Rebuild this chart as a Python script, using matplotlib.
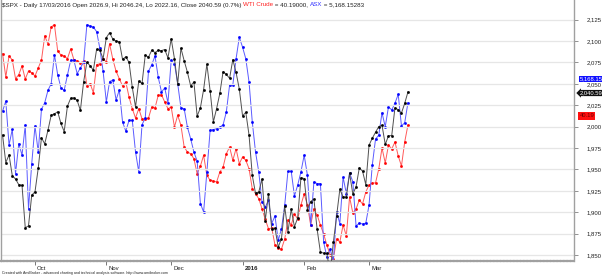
import numpy as np
import pandas as pd
import matplotlib
matplotlib.use("Agg")
import matplotlib.pyplot as plt
from matplotlib.transforms import ScaledTranslation

plt.rcParams['font.family'] = ['Liberation Sans', 'DejaVu Sans']

# trading days 17/09/2015 .. 17/03/2016 (US holidays removed)
holidays = ['2015-11-26', '2015-12-25', '2016-01-01', '2016-01-18', '2016-02-15']
dates = pd.bdate_range('2015-09-17', '2016-03-17')
dates = dates[~dates.isin(pd.to_datetime(holidays))]

spx = [1990.20, 1958.03, 1966.97, 1942.74, 1938.76, 1932.24, 1931.34, 1881.77, 1884.09, 1920.03,
       1923.82, 1951.36, 1987.05, 1979.92, 1995.83, 2013.43, 2014.89, 2017.46, 2003.69, 1994.24,
       2023.86, 2033.11, 2033.66, 2030.77, 2018.94, 2052.51, 2075.15, 2071.18, 2065.89, 2090.35,
       2089.41, 2079.36,
       2104.05, 2109.79, 2102.31, 2099.93, 2099.20, 2078.58, 2081.72, 2075.00, 2045.97, 2023.04,
       2053.19, 2050.44, 2083.58, 2081.24, 2089.17, 2086.59, 2089.14, 2088.87, 2090.11, 2080.41,
       2102.63, 2079.51, 2049.62, 2091.69, 2077.07, 2063.59, 2047.62, 2052.23, 2012.37, 2021.94,
       2043.41, 2073.07, 2041.89, 2005.55, 2021.15, 2038.97, 2064.29, 2060.99, 2056.50, 2078.36,
       2063.36, 2043.94,
       2012.66, 2016.71, 1990.26, 1943.09, 1922.03, 1923.67, 1938.68, 1890.28, 1921.84, 1880.33,
       1881.33, 1859.33, 1868.99, 1906.90, 1877.08, 1903.63, 1882.95, 1893.36, 1940.24,
       1939.38, 1903.03, 1912.53, 1915.45, 1880.05, 1853.44, 1852.21, 1851.86, 1829.08, 1864.78,
       1895.58, 1926.82, 1917.83, 1917.78, 1945.50, 1921.27, 1929.80, 1951.70, 1948.05, 1932.23,
       1978.35, 1986.45, 1993.40, 1999.99, 2001.76, 1979.26, 1989.26, 1989.57, 2022.19, 2019.64,
       2015.93, 2027.22, 2040.59]

wti = [46.92, 44.72, 46.70, 46.32, 44.56, 44.94, 45.76, 44.53, 45.28, 45.12,
       44.81, 45.57, 46.32, 48.59, 47.83, 49.44, 49.65, 47.17, 46.79, 46.70,
       46.44, 47.36, 46.35, 46.23, 46.07, 46.20, 43.87, 44.09, 43.24, 45.88,
       45.97, 46.44, 46.13, 47.86, 46.39, 45.26, 44.56, 43.87, 44.25, 42.83,
       41.73, 40.85, 41.73, 40.78, 40.73, 40.85, 41.89, 41.79, 42.99, 43.05,
       42.36, 41.73, 41.89, 40.00, 41.11, 40.16, 38.11, 37.64, 37.48, 37.01,
       35.60, 36.32, 37.33, 35.44, 34.97, 34.91, 34.81, 35.76, 36.23, 37.48,
       38.11, 36.86, 37.95, 36.54, 37.17, 36.86, 36.07, 34.18, 33.71, 33.24,
       32.29, 31.29, 30.41, 30.47, 28.87, 28.59, 28.49, 29.44, 31.23, 30.76,
       31.79, 31.32, 32.64, 33.68, 32.64, 30.76, 32.27, 31.70, 30.76, 29.91,
       28.87, 27.93, 27.55, 29.44, 29.15, 30.76, 29.72, 33.40, 31.89, 32.27,
       33.11, 32.74, 33.87, 34.53, 34.72, 34.72, 36.04, 38.02, 36.61, 38.30,
       37.93, 38.59, 37.27, 36.32, 38.59, 40.19]

asx = [5147, 5172, 5062, 5102, 4991, 5066, 5037, 5112, 4903, 5016,
       5110, 5045, 5152, 5168, 5199, 5216, 5288, 5238, 5205, 5199,
       5237, 5274, 5274, 5241, 5255, 5270, 5363, 5360, 5357, 5346,
       5304, 5247, 5170, 5221, 5225, 5175, 5200, 5120, 5097, 5124,
       5124, 5045, 4995, 5113, 5130, 5247, 5263, 5285, 5232, 5195,
       5205, 5168, 5274, 5266, 5216, 5155, 5153, 5107, 5078, 5045,
       5022, 4916, 4895, 4995, 5099, 5101, 5103, 5107, 5113, 5145,
       5212, 5213, 5278, 5332, 5307, 5278, 5220, 5120, 5045, 4995,
       4920, 4907, 4924, 4866, 4885, 4824, 4853, 4912, 4997, 4997,
       4935, 4962, 4995, 5037, 4987, 4862, 4970, 4966, 4966, 4820,
       4782, 4802, 4772, 4895, 4866, 4982, 4941, 4992, 4971, 4860,
       4867, 4865, 4867, 4912, 5012, 5077, 5087, 5143, 5108, 5158,
       5150, 5167, 5189, 5110, 5118, 5168.15]

x = np.arange(len(dates))

fig = plt.figure(figsize=(6.02, 2.76), dpi=100)
ax = fig.add_axes([1 / 602, 15 / 276, 573 / 602, 261 / 276])
ax_w = ax.twinx()
ax_a = ax.twinx()

ax.set_xlim(-0.48, 176.2)
ax.set_ylim(1843, 2148)
ax_w.set_ylim(27.36, 51.98)
ax_a.set_ylim(4772.4, 5424.9)

for a in (ax_w, ax_a):
    a.set_yticks([])
    for s in a.spines.values():
        s.set_visible(False)

ax_a.plot(x, asx, color='#5a5aff', lw=0.7, marker='s', ms=0.9, mfc='#0000ff', mec='#0000ff')
ax_w.plot(x, wti, color='#ff5a5a', lw=0.7, marker='s', ms=0.9, mfc='#ff0000', mec='#ff0000')
ax.plot(x, spx, color='#505050', lw=0.7, marker='s', ms=0.9, mfc='#000000', mec='#000000', zorder=5)
ax.set_zorder(3)
ax.patch.set_visible(False)

# right price scale
yt = np.arange(1850, 2126, 25)
ax.set_yticks(yt)
ax.set_yticklabels([f'{v:,}' for v in yt])
ax.yaxis.tick_right()
ax.tick_params(axis='y', length=3, width=0.6, color='#808080', labelsize=4.3,
               pad=6, labelcolor='#202020')
ax.grid(axis='y', color='#e6e6e6', lw=0.9)
ax.set_axisbelow(True)

# month ticks
months = pd.Series(dates.month)
pos = x[(months != months.shift()).values][1:]
labs = ['Oct', 'Nov', 'Dec', '2016', 'Feb', 'Mar']
ax.set_xticks(pos)
ax.set_xticklabels(labs)
ax.tick_params(axis='x', length=3, width=0.6, color='#606060', labelsize=4.3, pad=0.5,
               labelcolor='#202020')
for t in ax.get_xticklabels():
    t.set_ha('left')
    t.set_transform(t.get_transform() + ScaledTranslation(1.5 / 72, 0, fig.dpi_scale_trans))
    if t.get_text() == '2016':
        t.set_fontweight('bold')

for s in ['left', 'right', 'bottom']:
    ax.spines[s].set_color('#a0a0a0')
    ax.spines[s].set_linewidth(1.0)
ax.spines['bottom'].set_linewidth(1.6)
ax.spines['bottom'].set_linestyle((0, (1, 0.5)))
ax.spines['top'].set_visible(False)

# value tags at the right
ax_a.annotate(f'{asx[-1]:,.2f}', xy=(1.0, asx[-1]), xycoords=('axes fraction', 'data'),
              xytext=(4, 17), textcoords='offset points', fontsize=4.2, color='white',
              va='center', ha='left', annotation_clip=False,
              bbox=dict(boxstyle='square,pad=0.1', fc='#1010ff', ec='none'))
ax.annotate(f'{spx[-1]:,.2f}', xy=(1.0, spx[-1]), xycoords=('axes fraction', 'data'),
            xytext=(4, -0.8), textcoords='offset points', fontsize=4.2, color='white',
            va='center', ha='left', annotation_clip=False,
            bbox=dict(boxstyle='larrow,pad=0.1', fc='#101010', ec='none'))
ax_w.annotate(f'{wti[-1]:.2f}', xy=(1.0, wti[-1]), xycoords=('axes fraction', 'data'),
              xytext=(4, 6.5), textcoords='offset points', fontsize=4.2, color='#700000',
              va='center', ha='left', annotation_clip=False,
              bbox=dict(boxstyle='square,pad=0.2', fc='#ff1010', ec='none'))

# header
hdr = [('$SPX - Daily 17/03/2016 Open 2026.9, Hi 2046.24, Lo 2022.16, Close 2040.59 (0.7%) ', '#202020'),
       ('WTI Crude', '#ff2020'), (' = 40.19000, ', '#202020'), ('ASX', '#3030ff'),
       (' = 5,168.15283', '#202020')]
t = fig.text(2 / 602, 1 - 5 / 276, hdr[0][0], color=hdr[0][1], fontsize=4.5, va='center')
for txt, col in hdr[1:]:
    fig.canvas.draw()
    bb = fig.texts[-1].get_window_extent()
    fig.text(bb.x1 / fig.bbox.width, 1 - 5 / 276, txt, color=col, fontsize=4.5, va='center')

fig.text(2 / 602, 3 / 276, 'Created with AmiBroker - advanced charting and technical analysis software. http://www.amibroker.com',
         fontsize=2.6, color='#202020', va='center')

fig.savefig('out.png', dpi=100)
